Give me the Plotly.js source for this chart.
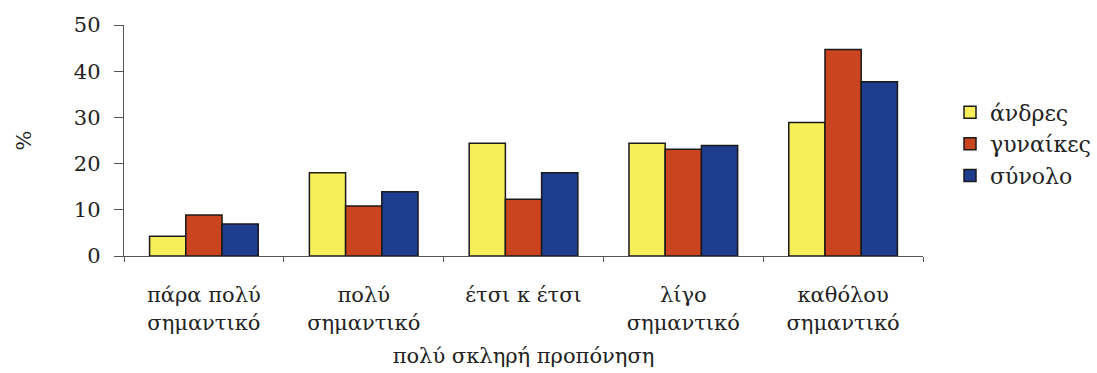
<!DOCTYPE html>
<html>
<head>
<meta charset="utf-8">
<script src="https://cdn.plot.ly/plotly-3.0.1.min.js"></script>
<style>html,body{margin:0;padding:0;background:#fff;}#chart{width:1097px;height:373px;}</style>
</head>
<body>
<div id="chart"></div>
<script>
const categories = ["πάρα πολύ<br>σημαντικό", "πολύ<br>σημαντικό", "έτσι κ έτσι", "λίγο<br>σημαντικό", "καθόλου<br>σημαντικό"];
const seriesNames = ["άνδρες", "γυναίκες", "σύνολο"];
const andres = [4.3, 18.0, 24.4, 24.4, 28.9];
const gynaikes = [8.9, 10.8, 12.3, 23.1, 44.7];
const synolo = [6.9, 13.9, 18.0, 23.9, 37.7];
const yTicks = [0, 10, 20, 30, 40, 50];
const colors = ["#F7EE5A", "#C9441F", "#1F3D8E"];
const FONT = "DejaVu Serif, Liberation Serif, serif";

const values = [andres, gynaikes, synolo];
const traces = values.map((v, i) => ({
  type: "bar",
  name: seriesNames[i],
  x: categories,
  y: v,
  marker: {color: colors[i], line: {color: "#1a1a1a", width: 1.5}},
  hoverinfo: "skip"
}));

const layout = {
  width: 1097, height: 373,
  margin: {l: 124, r: 174, t: 25, b: 117},
  paper_bgcolor: "#fff", plot_bgcolor: "#fff",
  font: {family: FONT, size: 21, color: "#222"},
  barmode: "group",
  bargap: 0.32,
  bargroupgap: 0,
  showlegend: true,
  legend: {xref: "container", yref: "container", x: 0.866, y: 0.755, xanchor: "left", yanchor: "top",
           font: {size: 22, family: FONT, color: "#222"}, bgcolor: "rgba(0,0,0,0)", itemwidth: 30},
  xaxis: {
    showline: true, linecolor: "#555", linewidth: 1.2,
    ticks: "outside", ticklen: 5, tickcolor: "#555", tickson: "boundaries",
    showgrid: false, zeroline: false,
    ticklabelstandoff: 20,
    tickfont: {size: 21, family: FONT, color: "#222"},
    title: {text: "πολύ σκληρή προπόνηση", font: {size: 21, family: FONT, color: "#222"}, standoff: 14},
    automargin: false
  },
  yaxis: {
    range: [0, 50], tickvals: yTicks, ticktext: yTicks.map(String),
    showline: true, linecolor: "#555", linewidth: 1.2,
    ticks: "outside", ticklen: 9, tickcolor: "#555",
    showgrid: false, zeroline: false,
    ticklabelstandoff: 9,
    tickfont: {size: 21, family: FONT, color: "#222"},
    title: {text: "%", font: {size: 21, family: FONT, color: "#222"}, standoff: 36},
    automargin: false
  }
};

Plotly.newPlot("chart", traces, layout, {displayModeBar: false, staticPlot: true});
</script>
</body>
</html>
